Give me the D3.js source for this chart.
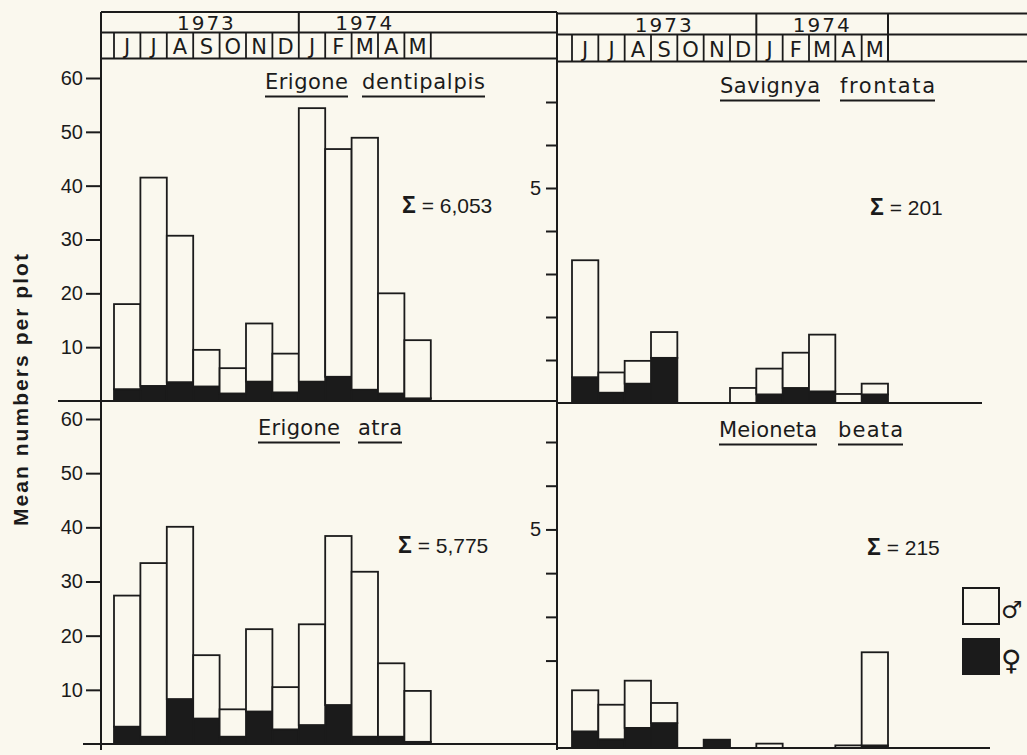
<!DOCTYPE html>
<html>
<head>
<meta charset="utf-8">
<script src="https://cdn.jsdelivr.net/npm/d3@7"></script>
<style>
  body { margin: 0; background: #faf8ee; }
  svg { display: block; }
</style>
</head>
<body>
<svg width="1027" height="755"></svg>
<script>
const WIDTH = 1027;
const HEIGHT = 755;
const INK = "#1b1b1b";
const PAPER = "#faf8ee";
const STENCIL = "DejaVu Sans";
const PLAIN = "Liberation Sans";

// months of the sampling period, Jun 1973 .. May 1974
const months = ["J", "J", "A", "S", "O", "N", "D", "J", "F", "M", "A", "M"];
const monthYears = ["1973", "1973", "1973", "1973", "1973", "1973", "1973", "1974", "1974", "1974", "1974", "1974"];
const years = ["1973", "1974"];

// mean numbers per plot, females (black) and males (white) stacked
const dentipalpisFemale = [2.2, 2.8, 3.5, 2.7, 1.4, 3.6, 1.6, 3.6, 4.5, 2.1, 1.4, 0.5];
const dentipalpisMale = [15.8, 38.7, 27.2, 6.8, 4.7, 10.8, 7.2, 50.8, 42.3, 46.8, 18.6, 10.8];
const atraFemale = [3.2, 1.35, 8.3, 4.7, 1.35, 6.0, 2.7, 3.5, 7.2, 1.35, 1.35, 0.4];
const atraMale = [24.2, 32.05, 31.8, 11.7, 5.05, 15.2, 7.8, 18.6, 31.2, 30.45, 13.55, 9.4];
const savignyaFemale = [0.6, 0.24, 0.45, 1.05, 0, 0, 0, 0.2, 0.35, 0.27, 0, 0.2];
const savignyaMale = [2.72, 0.47, 0.53, 0.6, 0, 0, 0.35, 0.6, 0.82, 1.32, 0.21, 0.25];
const meionetaFemale = [0.38, 0.2, 0.46, 0.57, 0, 0.19, 0, 0, 0, 0, 0, 0.06];
const meionetaMale = [0.94, 0.79, 1.08, 0.46, 0, 0, 0, 0.1, 0, 0, 0.06, 2.13];

const totals = ["6,053", "201", "5,775", "215"];
const leftTicks = [10, 20, 30, 40, 50, 60];
const rightTicksTop = [1, 2, 3, 4, 5, 6, 7];
const rightTicksBottom = [2, 3, 4, 5, 6, 7];

const AXIS_L = 101;
const AXIS_R = 557;

const svg = d3.select("svg");
svg.append("rect").attr("width", WIDTH).attr("height", HEIGHT).attr("fill", PAPER);

const xLeft = d3.scaleBand().domain(d3.range(12)).range([114, 430.8]);
const xRight = d3.scaleBand().domain(d3.range(12)).range([572, 888]);

const line = (g, x1, y1, x2, y2, w = 2) =>
   g.append("line").attr("x1", x1).attr("y1", y1).attr("x2", x2).attr("y2", y2)
      .attr("stroke", INK).attr("stroke-width", w);

// ---- header (years / months) ----
const halves = [
   { x: xLeft, x0: AXIS_L, x1: AXIS_R, top: 12, mid: 32.5, bot: 58.5, closed: false },
   { x: xRight, x0: AXIS_R, x1: WIDTH, top: 13.5, mid: 34.5, bot: 61.5, closed: true }
];
halves.forEach(h => {
   const g = svg.append("g");
   [h.top, h.mid, h.bot].forEach(y => line(g, h.x0, y, h.x1, y));
   const edges = d3.range(13).map(i => i < 12 ? h.x(i) : h.x(11) + h.x.bandwidth());
   edges.forEach(e => line(g, e, h.mid, e, h.bot, 1.8));
   line(g, h.x(7), h.top, h.x(7), h.mid);
   if (h.closed) line(g, edges[12], h.top, edges[12], h.bot);
   g.selectAll("text.m").data(months).join("text")
      .attr("x", (d, i) => h.x(i) + h.x.bandwidth() / 2)
      .attr("y", h.bot - 4.5)
      .attr("text-anchor", "middle")
      .attr("font-family", STENCIL).attr("font-size", 21).attr("fill", INK)
      .text(d => d);
   years.forEach(yr => {
      const idx = monthYears.map((m, i) => m === yr ? i : -1).filter(i => i >= 0);
      const a = h.x(idx[0]);
      const b = h.x(idx[idx.length - 1]) + h.x.bandwidth();
      g.append("text")
         .attr("x", (a + b) / 2).attr("y", h.mid - 3)
         .attr("text-anchor", "middle")
         .attr("font-family", STENCIL).attr("font-size", 20)
         .attr("letter-spacing", 2).attr("fill", INK)
         .text(yr);
   });
});

// vertical axis lines
line(svg, AXIS_L, 12, AXIS_L, 750);
line(svg, AXIS_R, 12, AXIS_R, 750);

// ---- panels ----
const panels = [
   {
      words: ["Erigone", "dentipalpis"], wordX: [265, 362], wordW: [83, 123], titleY: 89,
      female: dentipalpisFemale, male: dentipalpisMale, total: totals[0],
      x: xLeft, y: d3.scaleLinear().domain([0, 60]).range([401, 78]),
      ticks: leftTicks, axisX: AXIS_L, tickSize: 15, pad: 3, fmt: d => d,
      sigma: [402, 213], base: [58, AXIS_R]
   },
   {
      words: ["Savignya", "frontata"], wordX: [720, 840], wordW: [100, 95], titleY: 93,
      female: savignyaFemale, male: savignyaMale, total: totals[1],
      x: xRight, y: d3.scaleLinear().domain([0, 7]).range([403, 102]),
      ticks: rightTicksTop, axisX: AXIS_R, tickSize: 11, pad: 5, fmt: d => d === 5 ? "5" : "",
      sigma: [870, 215], base: [AXIS_R, 982]
   },
   {
      words: ["Erigone", "atra"], wordX: [258, 358], wordW: [82, 44], titleY: 435,
      female: atraFemale, male: atraMale, total: totals[2],
      x: xLeft, y: d3.scaleLinear().domain([0, 60]).range([744, 419]),
      ticks: leftTicks, axisX: AXIS_L, tickSize: 15, pad: 3, fmt: d => d,
      sigma: [398, 553], base: [83, AXIS_R]
   },
   {
      words: ["Meioneta", "beata"], wordX: [719, 838], wordW: [98, 65], titleY: 437,
      female: meionetaFemale, male: meionetaMale, total: totals[3],
      x: xRight, y: d3.scaleLinear().domain([0, 7]).range([748, 442]),
      ticks: rightTicksBottom, axisX: AXIS_R, tickSize: 11, pad: 5, fmt: d => d === 5 ? "5" : "",
      sigma: [867, 555], base: [AXIS_R, 990]
   }
];

const stack = d3.stack().keys(["female", "male"]);

panels.forEach(p => {
   const g = svg.append("g");

   // y axis ticks
   const ax = g.append("g")
      .attr("transform", `translate(${p.axisX},0)`)
      .call(d3.axisLeft(p.y).tickValues(p.ticks).tickSize(p.tickSize).tickPadding(p.pad).tickFormat(p.fmt));
   ax.select(".domain").remove();
   ax.selectAll("line").attr("stroke", INK).attr("stroke-width", 2);
   ax.selectAll("text").attr("font-family", PLAIN).attr("font-size", 20).attr("fill", INK);

   // stacked bars
   const rows = months.map((m, i) => ({ i, female: p.female[i], male: p.male[i] }));
   const series = stack(rows);
   g.selectAll("g.s").data(series).join("g")
      .attr("fill", s => s.key === "female" ? INK : PAPER)
      .selectAll("rect")
      .data(s => s.filter(d => d[1] - d[0] > 0))
      .join("rect")
      .attr("x", d => p.x(d.data.i))
      .attr("width", p.x.bandwidth())
      .attr("y", d => p.y(d[1]))
      .attr("height", d => p.y(d[0]) - p.y(d[1]))
      .attr("stroke", INK).attr("stroke-width", 1.8);

   // baseline
   line(g, p.base[0], p.y(0), p.base[1], p.y(0), 2.2);

   // species name, each word underlined
   p.words.forEach((w, k) => {
      g.append("text")
         .attr("x", p.wordX[k]).attr("y", p.titleY)
         .attr("font-family", STENCIL).attr("font-size", 21).attr("fill", INK)
         .attr("textLength", p.wordW[k]).attr("lengthAdjust", "spacing")
         .text(w);
      line(g, p.wordX[k], p.titleY + 7.5, p.wordX[k] + p.wordW[k], p.titleY + 7.5, 2);
   });

   // total
   const t = g.append("text")
      .attr("x", p.sigma[0]).attr("y", p.sigma[1])
      .attr("font-family", PLAIN).attr("font-size", 21).attr("fill", INK);
   t.append("tspan").attr("font-weight", "bold").attr("font-size", 23).text("Σ");
   t.append("tspan").text(" = " + p.total);
});

// ---- legend ----
const legend = svg.append("g");
legend.append("rect").attr("x", 963).attr("y", 588).attr("width", 36).attr("height", 36)
   .attr("fill", PAPER).attr("stroke", INK).attr("stroke-width", 2);
legend.append("rect").attr("x", 963).attr("y", 639).attr("width", 36).attr("height", 35)
   .attr("fill", INK).attr("stroke", INK).attr("stroke-width", 2);
legend.append("text").attr("x", 1001).attr("y", 618)
   .attr("font-family", STENCIL).attr("font-size", 24).attr("fill", INK).text("♂");
legend.append("text").attr("x", 1001).attr("y", 670)
   .attr("font-family", STENCIL).attr("font-size", 28).attr("fill", INK).text("♀");

// y label
svg.append("text")
   .attr("transform", "translate(28,390) rotate(-90)")
   .attr("text-anchor", "middle")
   .attr("font-family", PLAIN).attr("font-weight", "bold").attr("font-size", 21)
   .attr("textLength", 272).attr("lengthAdjust", "spacing")
   .attr("fill", INK)
   .text("Mean numbers per plot");
</script>
</body>
</html>
